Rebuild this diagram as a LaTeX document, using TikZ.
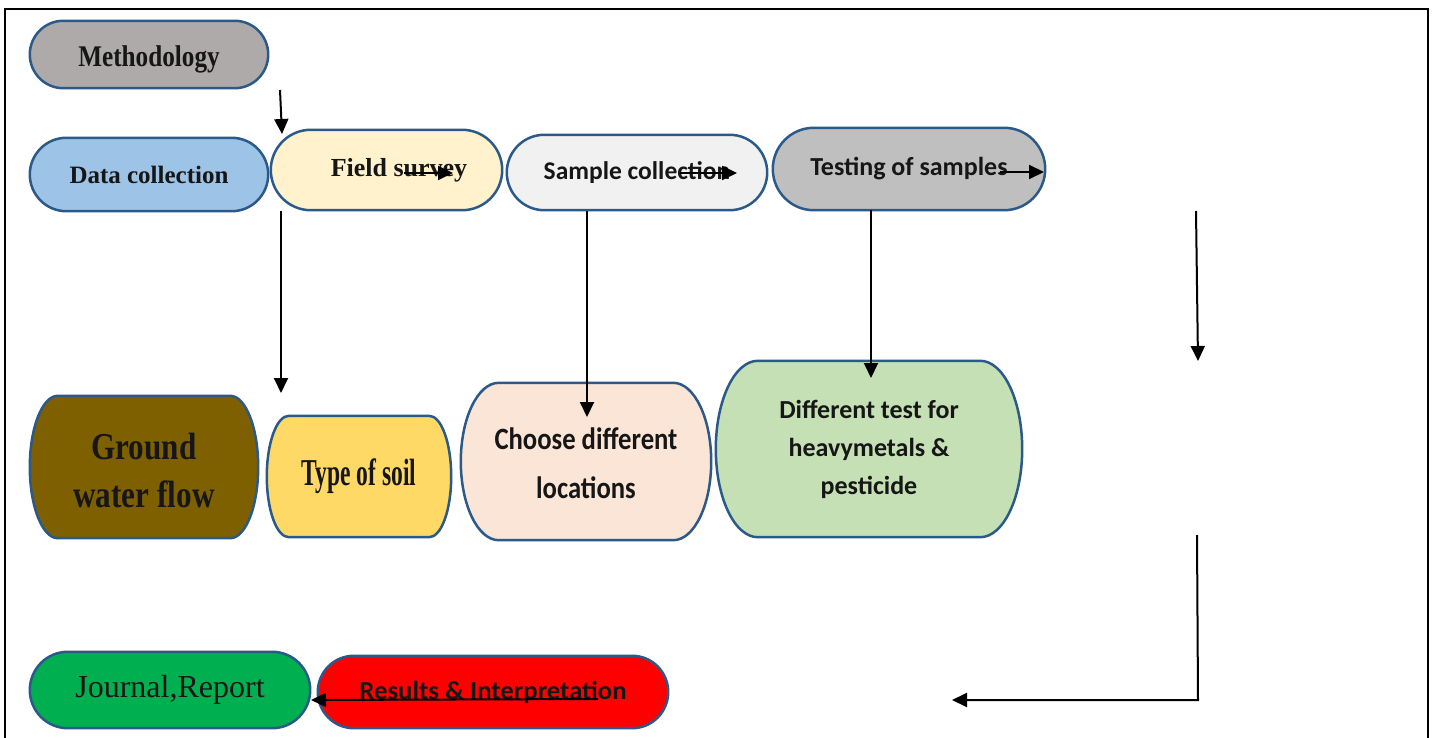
\documentclass[tikz,border=0pt]{standalone}
\usepackage{fontspec}
\usepackage{graphicx}
\usetikzlibrary{arrows.meta,calc}
\newfontfamily\tnr{Liberation Serif}
\newfontfamily\calb{Carlito}
\definecolor{edge}{HTML}{2B5A8A}
\definecolor{txt}{HTML}{161616}
\definecolor{cMeth}{HTML}{AEAAAA}
\definecolor{cDC}{HTML}{9DC3E6}
\definecolor{cFS}{HTML}{FFF2CC}
\definecolor{cSC}{HTML}{F1F1F1}
\definecolor{cTS}{HTML}{BFBFBF}
\definecolor{cGW}{HTML}{7F6000}
\definecolor{cSoil}{HTML}{FFD966}
\definecolor{cLoc}{HTML}{FBE5D6}
\definecolor{cDT}{HTML}{C5E0B4}
\definecolor{cJR}{HTML}{00B050}
\definecolor{cRI}{HTML}{FF0000}
\pgfdeclarelayer{background}
\pgfsetlayers{background,main}
\newcommand{\capshape}[3]{%
  \begin{pgfonlayer}{background}
  \path[capline, fill=#3] let \p1=(#1.north east), \p2=(#1.south west), \n1={(\y1-\y2)/2} in
    (\x2+#2pt,\y1) -- (\x1-#2pt,\y1)
    arc[start angle=90, end angle=-90, x radius=#2pt, y radius=\n1]
    -- (\x2+#2pt,\y2)
    arc[start angle=270, end angle=90, x radius=#2pt, y radius=\n1] -- cycle;
  \end{pgfonlayer}}
\newcommand{\lowerby}[2]{\raisebox{-#1}[\height][\depth]{#2}}
\tikzset{
  capline/.style={draw=edge, line width=2.5pt},
  boxnode/.style={draw=none, inner sep=0pt, text=txt, align=center},
  conn/.style={draw=black, line width=2pt, -{Triangle[length=15pt,width=14pt]}},
  frameline/.style={draw=black, line width=2pt}
}
\begin{document}
\begin{tikzpicture}[x=1pt,y=1pt]
\useasboundingbox (0,0) rectangle (1436,-738);
\begin{pgfonlayer}{background}
\fill[white] (0,0) rectangle (1436,-738);
\end{pgfonlayer}
% frame
\draw[frameline] (5,-738) -- (5,-9.5) -- (1428,-9.5) -- (1428,-738);

% nodes
\node[boxnode, minimum width=238pt, minimum height=67pt, font=\tnr\bfseries\fontsize{30}{36}\selectfont] (meth) at (149,-54.5) {\lowerby{5pt}{\scalebox{0.84}[1]{Methodology}}};
\node[boxnode, minimum width=238pt, minimum height=73pt, font=\tnr\bfseries\fontsize{25}{30}\selectfont] (dc) at (149,-174.5) {Data collection};
\node[boxnode, minimum width=231pt, minimum height=80pt, font=\tnr\bfseries\fontsize{26}{31}\selectfont] (fs) at (386.5,-170) {\hspace*{25pt}Field survey};
\node[boxnode, minimum width=260pt, minimum height=75pt, font=\calb\bfseries\fontsize{25.5}{30}\selectfont] (sc) at (637,-172.5) {Sample collection};
\node[boxnode, minimum width=272pt, minimum height=82pt, font=\calb\bfseries\fontsize{26}{31}\selectfont] (ts) at (909,-169) {Testing of samples};
\node[boxnode, minimum width=228pt, minimum height=142pt, font=\tnr\bfseries\fontsize{38}{48}\selectfont] (gw) at (144,-467) {\lowerby{4pt}{\scalebox{0.82}[1]{Ground}}\\\lowerby{4pt}{\scalebox{0.82}[1]{water flow}}};
\node[boxnode, minimum width=184pt, minimum height=121pt, font=\tnr\bfseries\fontsize{38}{46}\selectfont] (soil) at (359,-476.5) {\scalebox{0.62}[1]{Type of soil}};
\node[boxnode, minimum width=250pt, minimum height=157pt, font=\calb\bfseries\fontsize{31}{49}\selectfont] (loc) at (586,-461.5) {\lowerby{2pt}{\scalebox{0.86}[1]{Choose different}}\\\lowerby{2pt}{\scalebox{0.86}[1]{locations}}};
\node[boxnode, minimum width=306pt, minimum height=176pt, font=\calb\bfseries\fontsize{26}{38}\selectfont] (dt) at (869,-449) {Different test for\\heavymetals \&\\pesticide};
\node[boxnode, minimum width=280pt, minimum height=76pt, font=\tnr\fontsize{32}{38}\selectfont] (jr) at (170,-690) {Journal,Report};
\node[boxnode, minimum width=350pt, minimum height=72pt, font=\calb\bfseries\fontsize{26}{31}\selectfont] (ri) at (493,-692) {\scalebox{1.03}[1]{Results \& Interpretation}};

% shapes
\capshape{meth}{33.5}{cMeth}
\capshape{dc}{36.5}{cDC}
\capshape{fs}{40}{cFS}
\capshape{sc}{37.5}{cSC}
\capshape{ts}{41}{cTS}
\capshape{gw}{28}{cGW}
\capshape{soil}{22}{cSoil}
\capshape{loc}{38}{cLoc}
\capshape{dt}{42}{cDT}
\capshape{jr}{38}{cJR}
\capshape{ri}{36}{cRI}

% connector end points
\coordinate (a1s) at (280,-90);   \coordinate (a1e) at (282,-134);
\coordinate (a2s) at (404,-173);  \coordinate (a2e) at (453,-173);
\coordinate (a3s) at (680,-173);  \coordinate (a3e) at (737,-173);
\coordinate (a4s) at (1000,-172); \coordinate (a4e) at (1044,-172);
\coordinate (a5s) at (281,-211);  \coordinate (a5e) at (281,-393);
\coordinate (a6s) at (587,-211);  \coordinate (a6e) at (587,-417);
\coordinate (a7s) at (871,-210);  \coordinate (a7e) at (871,-378);
\coordinate (a8s) at (1196,-211); \coordinate (a8e) at (1198,-361);
\coordinate (a9s) at (1197,-535); \coordinate (a9c) at (1198,-700); \coordinate (a9e) at (952,-700);
\coordinate (a10s) at (598,-699); \coordinate (a10e) at (311,-700);

% connectors
\draw[conn] (a1s) -- (a1e);
\draw[conn] (a2s) -- (a2e);
\draw[conn] (a3s) -- (a3e);
\draw[conn] (a4s) -- (a4e);
\draw[conn] (a5s) -- (a5e);
\draw[conn] (a6s) -- (a6e);
\draw[conn] (a7s) -- (a7e);
\draw[conn] (a8s) -- (a8e);
\draw[conn] (a9s) -- (a9c) -- (a9e);
\draw[conn] (a10s) -- (a10e);
\end{tikzpicture}
\end{document}
